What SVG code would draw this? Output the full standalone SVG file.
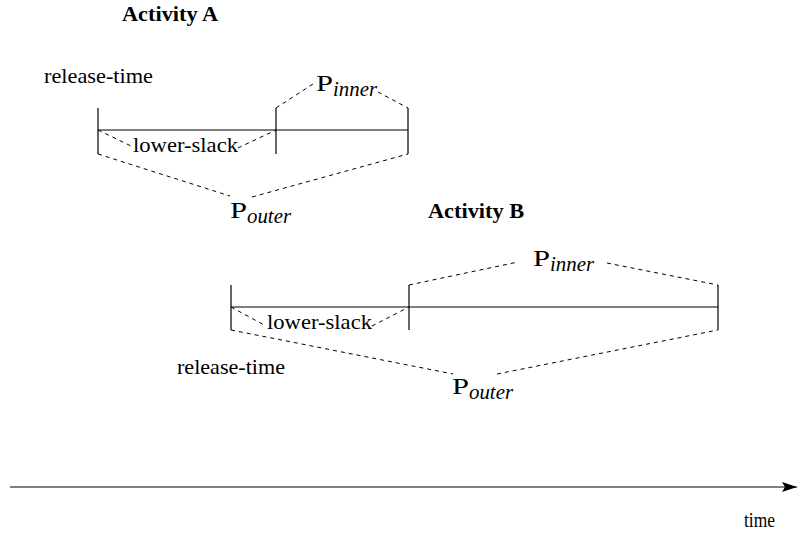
<svg xmlns="http://www.w3.org/2000/svg" width="798" height="535" viewBox="0 0 798 535">
<style>
text{fill:#000;font-family:"Liberation Serif","Times New Roman",serif}
.t{font-size:21px}
.b{font-size:20px;font-weight:bold}
.p{font-size:23px}
.s{font-size:20px;font-style:italic}
.solid{stroke:#000;stroke-width:1.2;fill:none}
.dash{stroke:#000;stroke-width:1;fill:none;stroke-dasharray:4 4}
</style>
<defs>
<marker id="arr" markerWidth="16" markerHeight="10" refX="15" refY="5" orient="auto" markerUnits="userSpaceOnUse">
<path d="M0,0 L15,5 L0,10 L3,5 Z" fill="#000"/>
</marker>
</defs>
<rect width="798" height="535" fill="#fff"/>

<g id="activityA">
<text class="b" x="122" y="21" textLength="96" lengthAdjust="spacingAndGlyphs">Activity A</text>
<text class="t" x="44" y="83" textLength="109" lengthAdjust="spacingAndGlyphs">release-time</text>
<g class="bar">
<line class="solid" x1="98" y1="130" x2="408" y2="130"/>
<line class="solid" x1="98" y1="108" x2="98" y2="154"/>
<line class="solid" x1="276" y1="108" x2="276" y2="154"/>
<line class="solid" x1="408" y1="108" x2="408" y2="154"/>
</g>
<g class="labels">
<text class="p" x="316" y="91" textLength="17" lengthAdjust="spacingAndGlyphs">P</text><text class="s" x="333" y="96" textLength="44" lengthAdjust="spacingAndGlyphs">inner</text>
<text class="t" x="133" y="152" textLength="105" lengthAdjust="spacingAndGlyphs">lower-slack</text>
<text class="p" x="230" y="218" textLength="17" lengthAdjust="spacingAndGlyphs">P</text><text class="s" x="247" y="223" textLength="44" lengthAdjust="spacingAndGlyphs">outer</text>
</g>
</g>

<g id="activityB">
<text class="b" x="428" y="218" textLength="96" lengthAdjust="spacingAndGlyphs">Activity B</text>
<text class="t" x="177" y="374" textLength="108" lengthAdjust="spacingAndGlyphs">release-time</text>
<g class="bar">
<line class="solid" x1="231" y1="307" x2="718" y2="307"/>
<line class="solid" x1="231" y1="285" x2="231" y2="330"/>
<line class="solid" x1="409" y1="285" x2="409" y2="330"/>
<line class="solid" x1="718" y1="285" x2="718" y2="330"/>
</g>
<g class="labels">
<text class="p" x="533" y="266" textLength="17" lengthAdjust="spacingAndGlyphs">P</text><text class="s" x="550" y="271" textLength="44" lengthAdjust="spacingAndGlyphs">inner</text>
<text class="t" x="267" y="329" textLength="105" lengthAdjust="spacingAndGlyphs">lower-slack</text>
<text class="p" x="452" y="394" textLength="17" lengthAdjust="spacingAndGlyphs">P</text><text class="s" x="469" y="399" textLength="44" lengthAdjust="spacingAndGlyphs">outer</text>
</g>
</g>

<g id="connectors">
<polyline class="dash" points="276,108 313,84"/>
<polyline class="dash" points="378,92 408,108"/>
<polyline class="dash" points="98,130 133,147"/>
<polyline class="dash" points="238,148 276,130"/>
<polyline class="dash" points="98,154 230,196"/>
<polyline class="dash" points="252,197 408,154"/>

<polyline class="dash" points="409,285 518,262"/>
<polyline class="dash" points="607,263 718,285"/>
<polyline class="dash" points="231,307 266,326"/>
<polyline class="dash" points="372,326 409,307"/>
<polyline class="dash" points="231,330 453,374"/>
<polyline class="dash" points="497,374 718,330"/>
</g>

<g id="timeAxis">
<line class="solid" x1="10" y1="487" x2="797" y2="487" marker-end="url(#arr)"/>
<text class="t" x="744" y="527" textLength="31" lengthAdjust="spacingAndGlyphs">time</text>
</g>
</svg>
